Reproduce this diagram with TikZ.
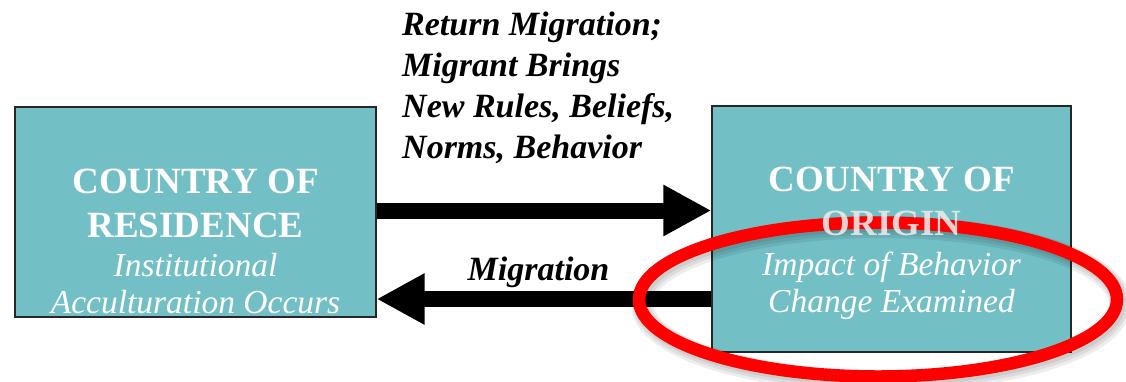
\documentclass[tikz,border=0pt]{standalone}
\usepackage{fontspec}
\setmainfont{Liberation Serif}[
  UprightFont={Liberation Serif},
  BoldFont={Liberation Serif Bold},
  ItalicFont={Liberation Serif Italic},
  BoldItalicFont={Liberation Serif Bold Italic}]
\usetikzlibrary{arrows.meta}
\definecolor{boxteal}{RGB}{114,191,197}
\definecolor{ringred}{RGB}{255,0,0}
\tikzset{
  country/.style={draw=black!85, line width=1.3pt, fill=boxteal, inner sep=0pt},
  headtext/.style={font=\fontsize{37}{40}\selectfont\bfseries, text=white, inner sep=0pt, anchor=base},
  subtext/.style={font=\fontsize{33.5}{36}\selectfont\itshape, text=white, inner sep=0pt, anchor=base},
  flowlabel/.style={font=\fontsize{34}{41}\selectfont\bfseries\itshape, text=black, inner sep=0pt},
  fatarrow/.style={line width=16pt, draw=black, -{Triangle[length=48pt,width=48pt]}},
  ring/.style={draw=ringred, line width=12.5pt},
  ringshade/.style={draw=black, line width=#1, opacity=0.07}
}
\begin{document}
\begin{tikzpicture}[x=1pt,y=-1pt]
\useasboundingbox (0,0) rectangle (1126,381);

% the two country boxes
\node[country, minimum width=361pt, minimum height=210pt] (res) at (195.5,212) {};
\node[country, minimum width=359pt, minimum height=246pt] (orig) at (891.5,229) {};

% heights of the two connectors
\coordinate (upper) at (0,210.5);
\coordinate (lower) at (0,299);

% texts of the left box
\node[headtext] (resA) at (195.5,193) {COUNTRY OF};
\node[headtext] (resB) at (195.5,237) {RESIDENCE};
\node[subtext]  (resC) at (195.5,276) {Institutional};
\node[subtext]  (resD) at (195.5,313) {Acculturation Occurs};

% texts of the right box
\node[headtext] (origA) at (891.5,191) {COUNTRY OF};
\node[subtext]  (origC) at (891.5,275) {Impact of Behavior};
\node[subtext]  (origD) at (891.5,312) {Change Examined};

% connectors between the boxes
\draw[fatarrow] (res.east |- upper) -- (orig.west |- upper);
\draw[fatarrow] (orig.west |- lower) -- (res.east |- lower);

% label of the outgoing flow
\node[flowlabel, anchor=base west] (ret1) at (402,35)  {Return Migration;};
\node[flowlabel, anchor=base west] (ret2) at (402,76)  {Migrant Brings};
\node[flowlabel, anchor=base west] (ret3) at (402,117) {New Rules, Beliefs,};
\node[flowlabel, anchor=base west] (ret4) at (402,158) {Norms, Behavior};

% label of the returning flow
\node[flowlabel, anchor=base] (mig) at (538.5,280) {Migration};

% highlighting ring with a soft drop shadow
\draw[ringshade=22pt] (881,304) ellipse [x radius=239pt, y radius=77pt];
\draw[ringshade=18pt] (880.5,303) ellipse [x radius=239pt, y radius=77pt];
\draw[ringshade=14pt] (880,302) ellipse [x radius=239pt, y radius=77pt];
\draw[ring] (878,299.5) ellipse [x radius=239pt, y radius=77pt];

% second heading line, showing faintly over the ring
\node[headtext, text=white!92!black, opacity=0.88] (origB) at (891.5,235) {ORIGIN};
\end{tikzpicture}
\end{document}
